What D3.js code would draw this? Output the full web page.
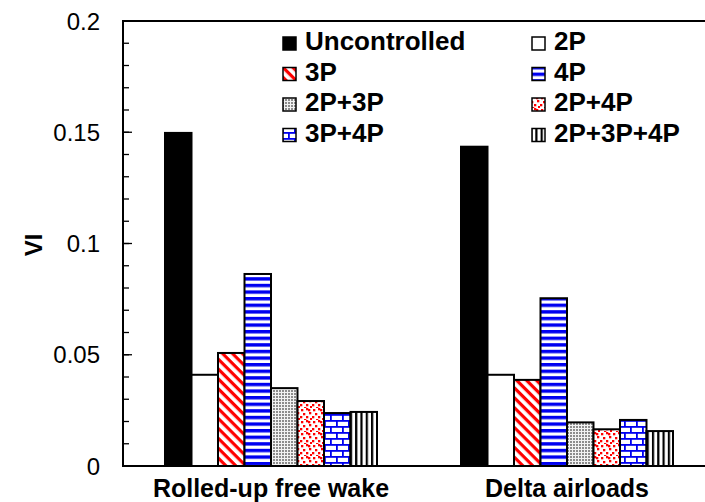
<!DOCTYPE html>
<html><head><meta charset="utf-8">
<script src="https://cdn.jsdelivr.net/npm/d3@7/dist/d3.min.js"></script>
<style>body{margin:0;background:#fff;} svg{display:block;}</style>
</head><body>
<svg id="chart" width="705" height="502"></svg>
<script>
const categories = ["Rolled-up free wake", "Delta airloads"];
const seriesNames = ["Uncontrolled", "2P", "3P", "4P", "2P+3P", "2P+4P", "3P+4P", "2P+3P+4P"];
const rolledUpValues = [0.1497, 0.041, 0.0508, 0.0863, 0.035, 0.0292, 0.0238, 0.0243];
const deltaValues = [0.1435, 0.041, 0.0387, 0.0754, 0.0196, 0.0165, 0.0207, 0.0157];
const yTicks = [0, 0.05, 0.1, 0.15, 0.2];
const yTickLabels = ["0", "0.05", "0.1", "0.15", "0.2"];
const yMinorTicks = d3.range(0, 0.2001, 0.01);
const yLabel = "VI";

const svg = d3.select("#chart");
const m = {left: 123, right: 715, top: 21, bottom: 466};
const x0 = d3.scaleBand().domain(categories).range([m.left, m.right]).paddingInner(0).paddingOuter(0);
const x1 = d3.scaleBand().domain(seriesNames).range([0, x0.bandwidth()]).paddingOuter(1.585).paddingInner(0);
const y = d3.scaleLinear().domain([0, 0.2]).range([m.bottom, m.top]);

// patterns
const defs = svg.append("defs");
function pat(id, w, h, tr) {
  const p = defs.append("pattern").attr("id", id).attr("patternUnits", "userSpaceOnUse")
    .attr("width", w).attr("height", h);
  if (tr) p.attr("patternTransform", tr);
  p.append("rect").attr("width", w).attr("height", h).attr("fill", "#fff");
  return p;
}
// 3P diagonal red
let p = pat("p3P", 7, 7, "rotate(45)");
p.append("rect").attr("x", 0).attr("y", 0).attr("width", 7).attr("height", 3.2).attr("fill", "#f00");
// 4P horizontal blue
p = pat("p4P", 10, 6.6);
p.append("rect").attr("x", 0).attr("y", 0).attr("width", 10).attr("height", 3.4).attr("fill", "#0000f0");
// 2P+3P grey stipple
p = pat("p23", 3, 3);
p.select("rect").attr("fill", "#f2f2f2");
p.append("rect").attr("x", 0).attr("y", 0).attr("width", 2).attr("height", 2).attr("fill", "#8c8c8c");
// 2P+4P red dots
p = pat("p24", 12, 12);
[[1,1],[6,0],[9,4],[3,5],[0,8],[6,8],[10,10],[4,11],[8,1]].forEach(d => {
  p.append("rect").attr("x", d[0]).attr("y", d[1]).attr("width", 2.3).attr("height", 2.3).attr("fill", "#f00");
});
// 3P+4P blue brick
p = pat("p34", 12, 12);
p.append("rect").attr("x", 0).attr("y", 0).attr("width", 12).attr("height", 1.8).attr("fill", "#0000f0");
p.append("rect").attr("x", 0).attr("y", 6).attr("width", 12).attr("height", 1.8).attr("fill", "#0000f0");
p.append("rect").attr("x", 0).attr("y", 0).attr("width", 1.8).attr("height", 6).attr("fill", "#0000f0");
p.append("rect").attr("x", 6).attr("y", 6).attr("width", 1.8).attr("height", 6).attr("fill", "#0000f0");
// 2P+3P+4P vertical black
p = pat("p234", 5.3, 10);
p.append("rect").attr("x", 0).attr("y", 0).attr("width", 2.2).attr("height", 10).attr("fill", "#000");

const fills = ["#000", "#fff", "url(#p3P)", "url(#p4P)", "url(#p23)", "url(#p24)", "url(#p34)", "url(#p234)"];
const color = d3.scaleOrdinal().domain(seriesNames).range(fills);

const data = categories.map((c, i) => ({cat: c, vals: (i === 0 ? rolledUpValues : deltaValues)}));

// bars
const g = svg.append("g");
data.forEach(d => {
  g.selectAll(null).data(seriesNames.map((s, j) => ({s, v: d.vals[j]}))).enter()
    .append("rect")
    .attr("x", e => x0(d.cat) + x1(e.s))
    .attr("y", e => y(e.v))
    .attr("width", x1.bandwidth())
    .attr("height", e => y(0) - y(e.v))
    .attr("fill", e => color(e.s))
    .attr("stroke", "#000").attr("stroke-width", 2);
});

// frame
svg.append("rect").attr("x", m.left).attr("y", m.top).attr("width", m.right - m.left).attr("height", m.bottom - m.top)
  .attr("fill", "none").attr("stroke", "#000").attr("stroke-width", 2);

// y axis ticks inside
const ax = svg.append("g");
ax.selectAll(null).data(yMinorTicks).enter().append("line")
  .attr("x1", m.left).attr("x2", m.left + 6).attr("y1", d => y(d)).attr("y2", d => y(d))
  .attr("stroke", "#000").attr("stroke-width", 1.3);
ax.selectAll(null).data(yTicks).enter().append("line")
  .attr("x1", m.left).attr("x2", m.left + 9).attr("y1", d => y(d)).attr("y2", d => y(d))
  .attr("stroke", "#000").attr("stroke-width", 1.3);
ax.selectAll(null).data(yTicks).enter().append("text")
  .attr("x", 100).attr("y", d => y(d)).attr("dy", "0.36em")
  .attr("text-anchor", "end")
  .attr("font-family", "Liberation Sans, Arial, sans-serif").attr("font-size", 24)
  .text((d, i) => yTickLabels[i]);

svg.append("text").attr("transform", "translate(42,245) rotate(-90)")
  .attr("text-anchor", "middle")
  .attr("font-family", "Liberation Sans, Arial, sans-serif").attr("font-size", 24).attr("font-weight", "bold")
  .text(yLabel);

// category labels
svg.selectAll(".cat").data(categories).enter().append("text")
  .attr("x", d => x0(d) + x0.bandwidth() / 2).attr("y", 497)
  .attr("text-anchor", "middle")
  .attr("font-family", "Liberation Sans, Arial, sans-serif").attr("font-size", 25).attr("font-weight", "bold")
  .text(d => d);

// legend
const lg = svg.append("g");
seriesNames.forEach((s, i) => {
  const col = i % 2, row = Math.floor(i / 2);
  const bx = col === 0 ? 283 : 532;
  const by = 50 + row * 30.5;
  lg.append("rect").attr("x", bx).attr("y", by - 13).attr("width", 13).attr("height", 13)
    .attr("fill", color(s)).attr("stroke", "#000").attr("stroke-width", 1.5);
  lg.append("text").attr("x", bx + 22).attr("y", by)
    .attr("font-family", "Liberation Sans, Arial, sans-serif").attr("font-size", 26).attr("font-weight", "bold")
    .text(s);
});
</script>
</body></html>
